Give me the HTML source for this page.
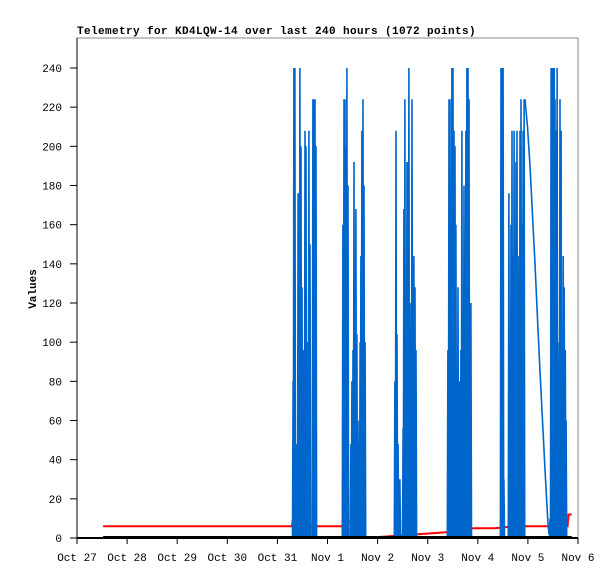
<!DOCTYPE html>
<html><head><meta charset="utf-8"><style>
body{margin:0;background:#fff}
svg text{font-family:"Liberation Mono","DejaVu Sans Mono",monospace;font-size:11px;fill:#000}
</style></head><body>
<svg id="chart" width="615" height="579" xmlns="http://www.w3.org/2000/svg">
<text x="77" y="34" font-weight="bold" letter-spacing="0.4">Telemetry for KD4LQW-14 over last 240 hours (1072 points)</text>
<text transform="translate(36,289) rotate(-90)" text-anchor="middle" font-weight="bold">Values</text>
<rect x="77" y="38" width="501" height="500" fill="none" stroke="#888" stroke-width="1"/>
<g id="series"></g>
<g id="axes"></g>
</svg>
<script>
const xTickLabels=["Oct 27","Oct 28","Oct 29","Oct 30","Oct 31","Nov 1","Nov 2","Nov 3","Nov 4","Nov 5","Nov 6"];
const yTicks=[0,20,40,60,80,100,120,140,160,180,200,220,240];
const spikeHours=[103.5,103.9,104.4,105.4,105.9,106.3,106.8,107.3,107.8,108.3,109.2,109.7,110.2,111.1,111.6,113.0,113.5,114.0,114.5,
127.4,127.9,128.4,128.9,129.3,129.8,131.2,131.7,132.2,132.7,133.2,133.6,134.1,134.6,135.1,135.6,136.0,136.5,137.0,137.5,138.0,
152.3,152.8,153.3,153.8,154.2,154.7,156.2,156.6,157.1,157.6,158.1,158.5,159.0,159.5,160.0,160.5,160.9,161.4,161.9,162.4,
177.7,178.2,178.7,179.1,179.6,180.1,180.6,181.1,181.5,182.0,182.5,183.0,183.5,183.9,184.4,184.9,185.4,185.9,186.3,186.8,187.3,187.8,188.2,188.7,
203.1,203.6,204.1,204.5,206.9,207.4,207.9,208.4,208.9,209.4,209.8,210.3,210.8,211.3,211.8,212.2,212.7,213.2,213.7,214.2,
226.6,227.1,227.6,228.1,228.6,229.0,229.5,230.0,230.5,231.0,231.4,231.9,232.4,232.9,233.4,233.9,234.3];
const spikeValues=[80,240,240,48,176,128,240,200,128,96,208,200,100,208,150,224,224,224,200,
160,224,224,200,240,180,48,80,96,192,120,168,104,60,48,100,144,208,224,180,100,
80,208,104,48,24,30,56,168,224,100,192,192,240,120,60,224,140,144,128,96,
96,224,224,60,240,240,208,200,160,40,128,80,80,96,208,80,180,80,208,240,240,224,90,120,
240,240,240,30,176,30,160,208,144,208,96,192,208,144,96,208,224,160,208,224,
10,240,240,240,240,224,208,240,30,100,224,208,73,144,128,96,60];
const tailHours=[214.6,215.8,217.0,218.2,219.4,220.6,221.8,223.0,224.2,225.6,226.1];
const tailValues=[224,210,190,165,140,112,85,60,35,8,2];
const redHours=[12.5,103,103.3,103.8,110,127,127.5,134,134.5,136,137,138,177.7,180,182,190,200,210,235,235.5,237];
const redValues=[6,6,9,6,6,6,8,9,6,5,3,0,3,3,4,5,5,6,6,12,12];
const blackHours=[12.5,237];
const blackValues=[0,0];

const X0=77,X1=578,Y0=538,Y1=38;
const xs=h=>X0+(h/240)*(X1-X0);
const ys=v=>Y0-v*(470/240);
const NS="http://www.w3.org/2000/svg";
function mk(tag,attrs,parent){const e=document.createElementNS(NS,tag);for(const k in attrs)e.setAttribute(k,attrs[k]);parent.appendChild(e);return e;}
const axes=document.getElementById('axes'),series=document.getElementById('series');

const r=mk('polyline',{points:redHours.map((h,i)=>xs(h)+','+ys(redValues[i])).join(' '),fill:'none',stroke:'#ff0000','stroke-width':'2'},series);



let pts=[];
for(let i=0;i<spikeHours.length;i++){
  const h=spikeHours[i];
  pts.push([xs(h)-0.6,ys(0)],[xs(h),ys(spikeValues[i])],[xs(h)+0.6,ys(0)]);
}
let bluePath=pts.map((p,i)=>(i?'L':'M')+p[0].toFixed(1)+' '+p[1].toFixed(1)).join(' ');
let tp=tailHours.map((h,i)=>(i?'L':'M')+xs(h).toFixed(1)+' '+ys(tailValues[i]).toFixed(1)).join(' ');
const b=mk('path',{d:bluePath+' '+tp,fill:'none',stroke:'#0066cc','stroke-width':'1.6'},series);



const k=mk('polyline',{points:blackHours.map((h,i)=>xs(h)+','+(ys(blackValues[i])-1)).join(' '),fill:'none',stroke:'#000','stroke-width':'2'},series);



const xa=mk('line',{x1:X0,y1:Y0,x2:X1,y2:Y0,stroke:'#000','stroke-width':'2'},axes);


const ya=mk('line',{x1:X0,y1:Y0,x2:X0,y2:Y1,stroke:'#000','stroke-width':'1'},axes);


xTickLabels.forEach((l,i)=>{
  const x=xs(i*24);
  const t=mk('line',{x1:x,y1:Y0,x2:x,y2:Y0+6,stroke:'#000'},axes);
  
  
  const tx=mk('text',{x:x,y:561,'text-anchor':'middle'},axes);
  tx.textContent=l;
  
  
});
yTicks.forEach(v=>{
  const y=ys(v);
  const t=mk('line',{x1:X0-7,y1:y,x2:X0,y2:y,stroke:'#000'},axes);
  
  
  const tx=mk('text',{x:X0-15,y:y+4,'text-anchor':'end'},axes);
  tx.textContent=v;
  
  
});
</script>
</body></html>
